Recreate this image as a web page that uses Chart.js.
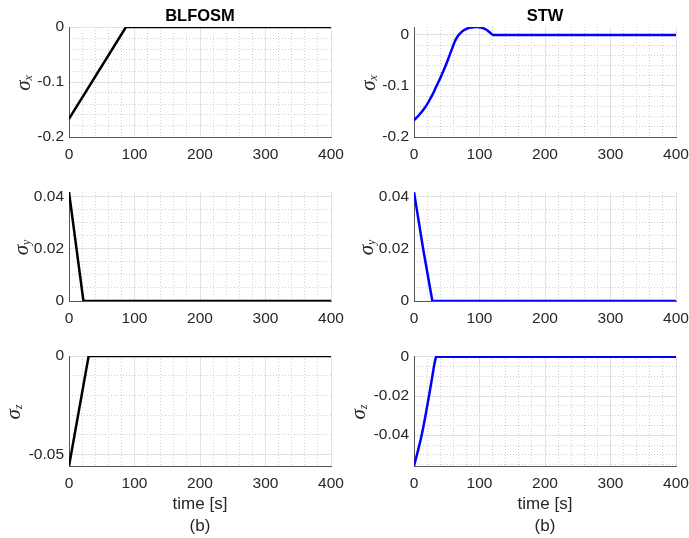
<!DOCTYPE html>
<html><head><meta charset="utf-8">
<script src="https://cdn.jsdelivr.net/npm/chart.js@4.4.1/dist/chart.umd.min.js"></script>
<style>
html,body{margin:0;padding:0;background:#fff;}
#wrap{position:relative;width:689px;height:538px;overflow:hidden;background:#fff;}
canvas{position:absolute;}
</style></head><body><div id="wrap"></div>
<script>
// ---- data ----
const xTicks = [0, 100, 200, 300, 400];
const yTicksSx = [-0.2, -0.1, 0];
const yTicksSy = [0, 0.02, 0.04];
const yTicksSzBl = [-0.05, 0];
const yTicksSzStw = [-0.04, -0.02, 0];

const timeBlX = [0, 87, 400];
const sigmaXBl = [-0.167, 0, 0];
const timeBlY = [0, 22, 400];
const sigmaYBl = [0.0419, 0, 0];
const timeBlZ = [0, 30, 400];
const sigmaZBl = [-0.0558, 0, 0];

const timeStwX = [0, 4, 9, 14, 19, 24, 29, 34, 39, 44, 49, 54, 59, 63, 66, 69, 72, 76, 81, 86, 91, 95.5, 100, 105, 110, 115, 121, 400];
const sigmaXStw = [-0.167, -0.162, -0.155, -0.147, -0.138, -0.127, -0.115, -0.101, -0.088, -0.073, -0.058, -0.041, -0.024, -0.011, -0.004, 0.001, 0.005, 0.009, 0.0125, 0.0143, 0.0152, 0.0154, 0.015, 0.0134, 0.0105, 0.0055, 0, 0];
const timeStwY = [0, 14, 28, 400];
const sigmaYStw = [0.0419, 0.02, 0, 0];
const timeStwZ = [0, 6, 11.7, 17, 22.9, 27, 31, 33, 35, 37, 400];
const sigmaZStw = [-0.0557, -0.048, -0.04, -0.031, -0.02, -0.0119, -0.004, -0.0008, 0.0003, 0, 0];

// ---- layout / style ----
const rows = [
  {top:0,   h:165, areaTop:27,  areaBottom:137},
  {top:165, h:165, areaTop:192, areaBottom:301},
  {top:330, h:208, areaTop:356, areaBottom:466}
];
const cols = [
  {left:0,   w:345, areaLeft:69,  areaRight:331},
  {left:345, w:344, areaLeft:414, areaRight:676}
];
const TXT = '#262626';
const AXIS = '#555555';
const MAJOR = '#e2e2e2';
const MINOR = '#cfcfcf';
const FONT = '"Liberation Sans", Arial, sans-serif';

const panels = [
  {row:0,col:0,title:'BLFOSM',t:timeBlX,v:sigmaXBl,color:'#000000',yMin:-0.2,yMax:0,yTicks:yTicksSx,yMinor:0.02,sub:'x',labX:30},
  {row:0,col:1,title:'STW',t:timeStwX,v:sigmaXStw,color:'#0000ff',yMin:-0.2,yMax:0.0155,yTicks:yTicksSx,yMinor:0.02,sub:'x',labX:30,smooth:true},
  {row:1,col:0,t:timeBlY,v:sigmaYBl,color:'#000000',yMin:0,yMax:0.0419,yTicks:yTicksSy,yMinor:0.005,sub:'y',labX:28},
  {row:1,col:1,t:timeStwY,v:sigmaYStw,color:'#0000ff',yMin:0,yMax:0.0419,yTicks:yTicksSy,yMinor:0.005,sub:'y',labX:28},
  {row:2,col:0,t:timeBlZ,v:sigmaZBl,color:'#000000',yMin:-0.0558,yMax:0,yTicks:yTicksSzBl,yMinor:0.01,sub:'z',labX:19.5},
  {row:2,col:1,t:timeStwZ,v:sigmaZStw,color:'#0000ff',yMin:-0.0557,yMax:0.0004,yTicks:yTicksSzStw,yMinor:0.005,sub:'z',labX:19.5,smooth:true}
];

function fmt(v){ return String(Number(v.toFixed(4))); }

function minorList(min, max, step, major){
  const out = [];
  for (let k = Math.ceil(min/step - 1e-9); k*step <= max + 1e-12; k++){
    const val = k*step;
    if (Math.abs(val - min) < step*1e-3 || Math.abs(val - max) < step*1e-3) continue;
    const r = val/major;
    if (Math.abs(r - Math.round(r)) < 1e-6) continue;
    out.push({value: val});
  }
  return out;
}

const wrap = document.getElementById('wrap');
panels.forEach(p => {
  const R = rows[p.row], C = cols[p.col];
  const cv = document.createElement('canvas');
  cv.width = C.w; cv.height = R.h;
  cv.style.left = C.left + 'px'; cv.style.top = R.top + 'px';
  cv.style.width = C.w + 'px'; cv.style.height = R.h + 'px';
  wrap.appendChild(cv);
  const majorStep = p.yTicks[1] - p.yTicks[0];
  const textPlugin = {
    id: 'txt' + p.row + p.col,
    afterDraw(chart){
      const ctx = chart.ctx, a = chart.chartArea;
      const cx = (a.left + a.right) / 2;
      ctx.save();
      ctx.fillStyle = '#000';
      if (p.title){
        ctx.font = 'bold 16.5px ' + FONT;
        ctx.textAlign = 'center'; ctx.textBaseline = 'alphabetic';
        ctx.fillText(p.title, cx, 21);
      }
      ctx.fillStyle = TXT;
      if (p.row === 2){
        ctx.font = '17px ' + FONT;
        ctx.textAlign = 'center'; ctx.textBaseline = 'alphabetic';
        ctx.fillText('time [s]', cx, 509 - R.top);
        ctx.fillText('(b)', cx, 531 - R.top);
      }
      // y label sigma_sub rotated
      const yc = (a.top + a.bottom) / 2 + 1;
      ctx.translate(p.labX, yc);
      ctx.rotate(-Math.PI / 2);
      ctx.textAlign = 'left'; ctx.textBaseline = 'alphabetic';
      ctx.font = 'italic 21px "Liberation Serif", serif';
      const ws = ctx.measureText('σ').width;
      ctx.font = 'italic 12px "Liberation Serif", serif';
      const wb = ctx.measureText(p.sub).width;
      const x0 = -(ws + wb) / 2;
      ctx.font = 'italic 21px "Liberation Serif", serif';
      ctx.fillText('σ', x0, 0);
      ctx.font = 'italic 12px "Liberation Serif", serif';
      ctx.fillText(p.sub, x0 + ws, 2);
      ctx.restore();
    }
  };
  new Chart(cv, {
    type: 'line',
    data: { datasets: [{
      data: p.t.map((x, i) => ({x: x, y: p.v[i]})),
      borderColor: p.color, borderWidth: 2.5, pointRadius: 0, fill: false,
      tension: 0, cubicInterpolationMode: p.smooth ? 'monotone' : 'default'
    }]},
    options: {
      responsive: false, animation: false, devicePixelRatio: 1,
      layout: { padding: { top: R.areaTop - R.top, left: 0, bottom: 0, right: C.w - (C.areaRight - C.left) } },
      plugins: { legend: {display:false}, tooltip: {enabled:false}, title: {display:false} },
      scales: {
        x: {
          type: 'linear', min: 0, max: 400, position: 'bottom',
          afterBuildTicks: s => { s.ticks = xTicks.map(v => ({value: v})); },
          ticks: { color: TXT, font: {family: FONT, size: 15.5}, padding: 8, maxRotation: 0, autoSkip: false, callback: v => fmt(v) },
          grid: { color: MAJOR, lineWidth: 1, drawTicks: false },
          border: { color: AXIS, width: 1 },
          afterFit: s => { s.height = R.h - (R.areaBottom - R.top); s.paddingLeft = 0; s.paddingRight = 0; }
        },
        xm: {
          type: 'linear', min: 0, max: 400, position: 'bottom',
          afterBuildTicks: s => { s.ticks = minorList(0, 400, 20, 100); },
          ticks: { display: false },
          grid: { color: MINOR, lineWidth: 1, drawTicks: false },
          border: { display: false, dash: [1, 2] },
          afterFit: s => { s.height = 0; s.paddingLeft = 0; s.paddingRight = 0; }
        },
        y: {
          type: 'linear', min: p.yMin, max: p.yMax, position: 'left',
          afterBuildTicks: s => { s.ticks = p.yTicks.map(v => ({value: v})); },
          ticks: { color: TXT, font: {family: FONT, size: 15.5}, padding: 5, autoSkip: false, callback: v => fmt(v) },
          grid: { color: MAJOR, lineWidth: 1, drawTicks: false },
          border: { color: AXIS, width: 1 },
          afterFit: s => { s.width = C.areaLeft - C.left; s.paddingTop = 0; s.paddingBottom = 0; }
        },
        ym: {
          type: 'linear', min: p.yMin, max: p.yMax, position: 'left',
          afterBuildTicks: s => { s.ticks = minorList(p.yMin, p.yMax, p.yMinor, majorStep); },
          ticks: { display: false },
          grid: { color: MINOR, lineWidth: 1, drawTicks: false },
          border: { display: false, dash: [1, 2] },
          afterFit: s => { s.width = 0; s.paddingTop = 0; s.paddingBottom = 0; }
        }
      }
    },
    plugins: [textPlugin]
  });
});
</script>
</body></html>
